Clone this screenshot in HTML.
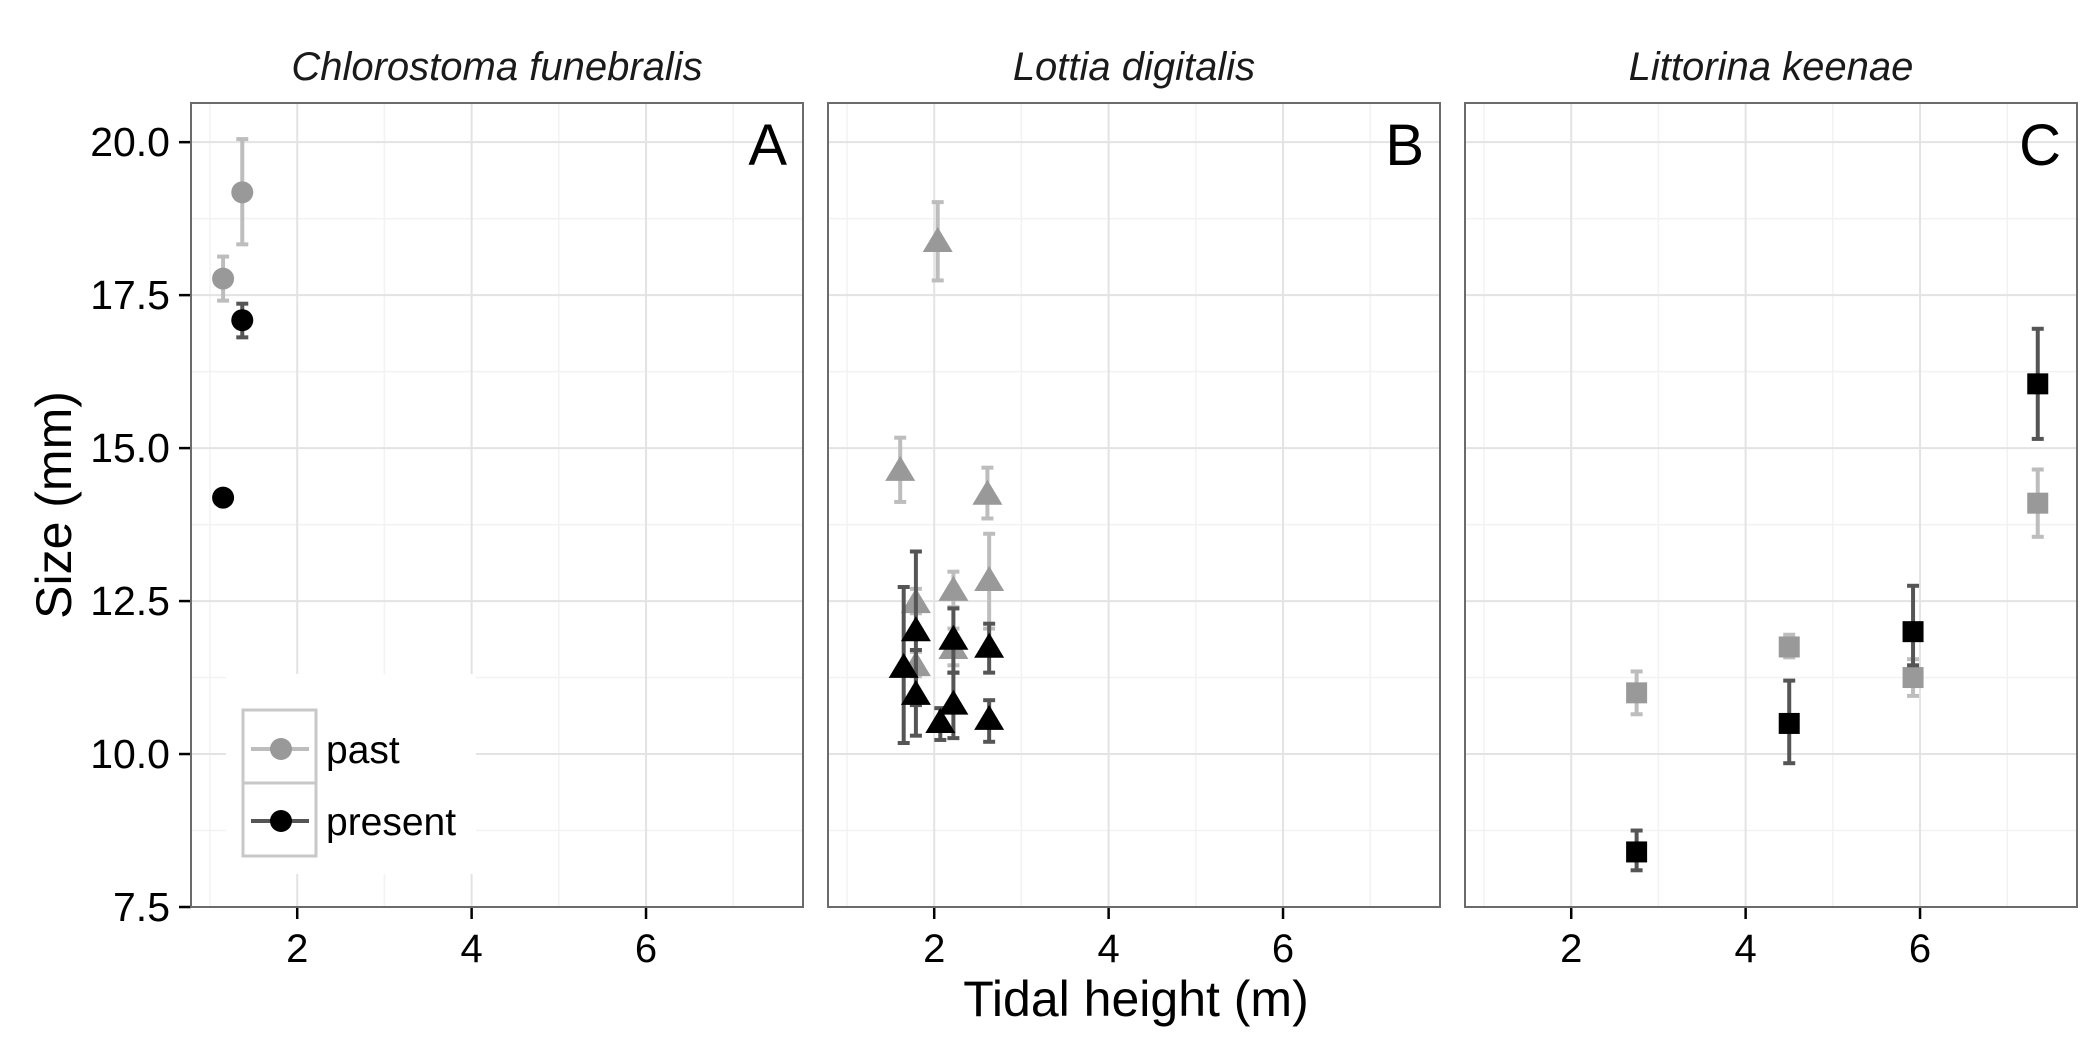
<!DOCTYPE html>
<html><head><meta charset="utf-8"><style>
html,body{margin:0;padding:0;background:#fff;}
svg{display:block;font-family:"Liberation Sans",Arial,sans-serif;}
</style></head><body>
<svg id="chart" width="2100" height="1050" viewBox="0 0 2100 1050" xmlns="http://www.w3.org/2000/svg"></svg>
<script>
// ---- data ----
const panelTitles = ["Chlorostoma funebralis", "Lottia digitalis", "Littorina keenae"];
const panelLetters = ["A", "B", "C"];
const xTicks = [2, 4, 6];
const yTicks = [7.5, 10.0, 12.5, 15.0, 17.5, 20.0];
const yTickLabels = ["7.5", "10.0", "12.5", "15.0", "17.5", "20.0"];
// panel A (circles)
const aPastX = [1.15, 1.37];
const aPastY = [17.77, 19.18];
const aPastLo = [17.41, 18.33];
const aPastHi = [18.13, 20.05];
const aPresX = [1.37, 1.15];
const aPresY = [17.09, 14.19];
const aPresLo = [16.81, 14.19];
const aPresHi = [17.36, 14.19];
// panel B (triangles)
const bPastX = [1.61, 2.04, 2.61, 1.79, 2.22, 2.63, 1.79, 2.22];
const bPastY = [14.66, 18.4, 14.27, 12.5, 12.7, 12.86, 11.47, 11.75];
const bPastLo = [14.12, 17.74, 13.85, 12.3, 12.4, 12.05, 11.27, 11.45];
const bPastHi = [15.17, 19.02, 14.68, 12.7, 12.98, 13.6, 11.67, 12.05];
const bPresX = [1.65, 1.79, 1.79, 2.22, 2.22, 2.07, 2.63, 2.63];
const bPresY = [11.44, 12.04, 11.0, 11.9, 10.84, 10.54, 11.77, 10.59];
const bPresLo = [10.18, 10.8, 10.3, 11.33, 10.26, 10.23, 11.33, 10.2];
const bPresHi = [12.73, 13.31, 11.7, 12.38, 11.33, 10.75, 12.13, 10.88];
// panel C (squares)
const cPastX = [2.75, 4.5, 5.92, 7.35];
const cPastY = [11.0, 11.75, 11.25, 14.1];
const cPastLo = [10.65, 11.58, 10.95, 13.55];
const cPastHi = [11.35, 11.95, 11.55, 14.65];
const cPresX = [2.75, 4.5, 5.92, 7.35];
const cPresY = [8.4, 10.5, 12.0, 16.05];
const cPresLo = [8.1, 9.85, 11.45, 15.15];
const cPresHi = [8.75, 11.2, 12.75, 16.95];

// ---- layout ----
const NS = "http://www.w3.org/2000/svg";
const svg = document.getElementById("chart");
const panelLeft = [191, 828, 1465], panelW = 612, panelTop = 103, panelBot = 907;
const xMin = 0.782, xMax = 7.8, yMin = 7.5, yMax = 20.64;
function sx(p, v) { return panelLeft[p] + (v - xMin) / (xMax - xMin) * panelW; }
function sy(v) { return panelBot - (v - yMin) / (yMax - yMin) * (panelBot - panelTop); }
function mk(tag, attrs, parent) {
  const e = document.createElementNS(NS, tag);
  for (const k in attrs) e.setAttribute(k, attrs[k]);
  (parent || svg).appendChild(e);
  return e;
}
const PAST = "#999999", PASTERR = "#bdbdbd", PRES = "#000000", PRESERR = "#555555";

for (let p = 0; p < 3; p++) {
  const g = mk("g", {});
  
  
  mk("rect", {x: panelLeft[p], y: panelTop, width: panelW, height: panelBot - panelTop, fill: "#fff"}, g);
  for (let v = 1; v <= 7; v += 2) {
    const l = mk("line", {x1: sx(p, v), x2: sx(p, v), y1: panelTop, y2: panelBot, stroke: "#f2f2f2", "stroke-width": 1.5}, g);
    
    
  }
  for (let i = 0; i < yTicks.length; i++) {
    const v = yTicks[i] + 1.25;
    if (v > yMax) continue;
    const l = mk("line", {x1: panelLeft[p], x2: panelLeft[p] + panelW, y1: sy(v), y2: sy(v), stroke: "#f2f2f2", "stroke-width": 1.5}, g);
    
    
  }
  for (const v of xTicks) {
    const l = mk("line", {x1: sx(p, v), x2: sx(p, v), y1: panelTop, y2: panelBot, stroke: "#e3e3e3", "stroke-width": 2}, g);
    
    
  }
  for (const v of yTicks) {
    const l = mk("line", {x1: panelLeft[p], x2: panelLeft[p] + panelW, y1: sy(v), y2: sy(v), stroke: "#e3e3e3", "stroke-width": 2}, g);
    
    
  }
  const t = mk("text", {x: panelLeft[p] + panelW / 2, y: 80, "text-anchor": "middle", "font-size": 40, "font-style": "italic", fill: "#1a1a1a"});
  t.textContent = panelTitles[p];
  
  
  for (const v of xTicks) {
    const tk = mk("line", {x1: sx(p, v), x2: sx(p, v), y1: panelBot, y2: panelBot + 12, stroke: "#000", "stroke-width": 2.5});
    
    
    const tl = mk("text", {x: sx(p, v), y: 962, "text-anchor": "middle", "font-size": 40, fill: "#000"});
    tl.textContent = String(v);
    
    
  }
}

for (let i = 0; i < yTicks.length; i++) {
  const tk = mk("line", {x1: 179, x2: 191, y1: sy(yTicks[i]), y2: sy(yTicks[i]), stroke: "#000", "stroke-width": 2.5});
  
  
  const tl = mk("text", {x: 170, y: sy(yTicks[i]) + 14, "text-anchor": "end", "font-size": 41, fill: "#000"});
  tl.textContent = yTickLabels[i];
  
  
}

const lg = mk("g", {});


mk("rect", {x: 226, y: 674, width: 250, height: 200, fill: "#fff"}, lg);

function errbar(p, x, lo, hi, col) {
  const X = sx(p, x);
  const e = mk("g", {stroke: col, "stroke-width": 4});
  
  
  mk("line", {x1: X, x2: X, y1: sy(lo), y2: sy(hi)}, e);
  mk("line", {x1: X - 6, x2: X + 6, y1: sy(lo), y2: sy(lo)}, e);
  mk("line", {x1: X - 6, x2: X + 6, y1: sy(hi), y2: sy(hi)}, e);
}
function marker(shape, cx, cy, col) {
  let m;
  if (shape === "circle") m = mk("circle", {cx: cx, cy: cy, r: 11, fill: col});
  else if (shape === "tri") m = mk("polygon", {points: (cx - 15) + "," + (cy + 12) + " " + (cx + 15) + "," + (cy + 12) + " " + cx + "," + (cy - 13), fill: col});
  else m = mk("rect", {x: cx - 10.5, y: cy - 10.5, width: 21, height: 21, fill: col});
  return m;
}
function series(p, shape, xs, ys, los, his, col, ecol, name) {
  for (let i = 0; i < xs.length; i++) {
    if (his[i] > los[i]) errbar(p, xs[i], los[i], his[i], ecol);
  }
  for (let i = 0; i < xs.length; i++) {
    const m = marker(shape, sx(p, xs[i]), sy(ys[i]), col);
    
    
  }
}
series(0, "circle", aPastX, aPastY, aPastLo, aPastHi, PAST, PASTERR, 'past-point');
series(0, "circle", aPresX, aPresY, aPresLo, aPresHi, PRES, PRESERR, 'present-point');
series(1, "tri", bPastX, bPastY, bPastLo, bPastHi, PAST, PASTERR, 'past-point');
series(1, "tri", bPresX, bPresY, bPresLo, bPresHi, PRES, PRESERR, 'present-point');
series(2, "square", cPastX, cPastY, cPastLo, cPastHi, PAST, PASTERR, 'past-point');
series(2, "square", cPresX, cPresY, cPresLo, cPresHi, PRES, PRESERR, 'present-point');

for (let p = 0; p < 3; p++) {
  const b = mk("rect", {x: panelLeft[p], y: panelTop, width: panelW, height: panelBot - panelTop, fill: "none", stroke: "#6b6b6b", "stroke-width": 2});
  
  
  const L = mk("text", {x: panelLeft[p] + panelW - 16, y: 165, "text-anchor": "end", "font-size": 58, fill: "#000"});
  L.textContent = panelLetters[p];
  
  
}

const keys = [["past", PAST, PASTERR, 710, 749], ["present", PRES, PRESERR, 783, 821]];
for (const k of keys) {
  const kg = mk("g", {}, lg);
  
  
  mk("rect", {x: 243, y: k[3], width: 73, height: 73, fill: "#fff", stroke: "#c8c8c8", "stroke-width": 3}, kg);
  mk("line", {x1: 251, x2: 309, y1: k[4], y2: k[4], stroke: k[2], "stroke-width": 4}, kg);
  mk("circle", {cx: 281, cy: k[4], r: 11, fill: k[1]}, kg);
  const tx = mk("text", {x: 326, y: k[4] + 14, "font-size": 39, fill: "#000"}, kg);
  tx.textContent = k[0];
}

const xt = mk("text", {x: 1136, y: 1016, "text-anchor": "middle", "font-size": 50, fill: "#000"});
xt.textContent = "Tidal height (m)";


const yt = mk("text", {x: 0, y: 0, "text-anchor": "middle", "font-size": 50, fill: "#000", transform: "translate(71,505) rotate(-90)"});
yt.textContent = "Size (mm)";


</script>
</body></html>
